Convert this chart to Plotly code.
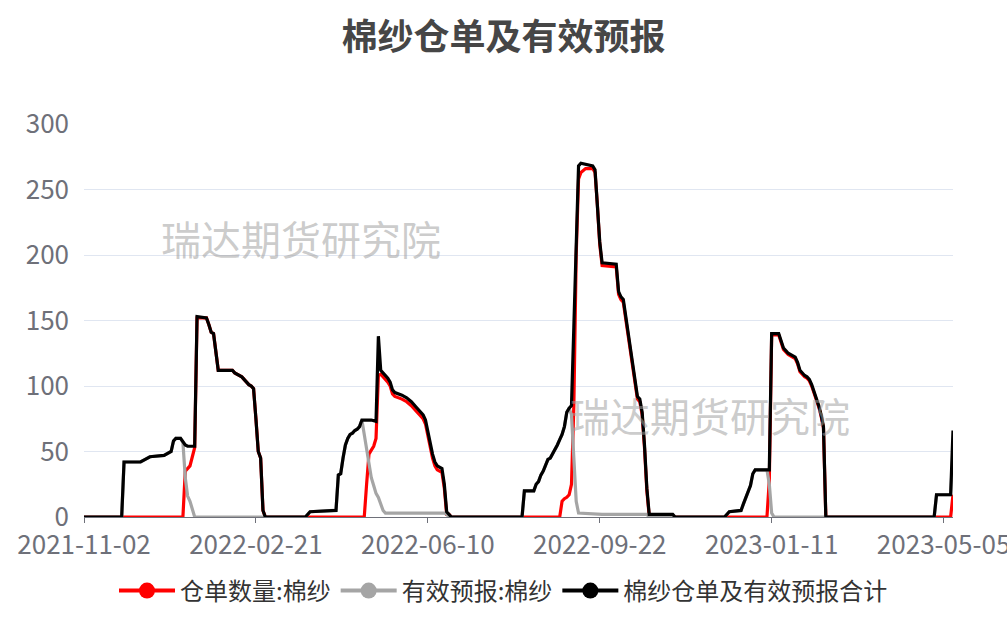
import pandas as pd
import plotly.graph_objects as go

# ---- trading calendar (exchange holidays removed) ----
HOLIDAYS = [
    "2022-01-03", "2022-01-31", "2022-02-01", "2022-02-02", "2022-02-03", "2022-02-04",
    "2022-04-04", "2022-04-05", "2022-05-02", "2022-05-03", "2022-05-04", "2022-06-03",
    "2022-09-12", "2022-10-03", "2022-10-04", "2022-10-05", "2022-10-06", "2022-10-07",
    "2023-01-02", "2023-01-23", "2023-01-24", "2023-01-25", "2023-01-26", "2023-01-27",
    "2023-04-05", "2023-05-01", "2023-05-02", "2023-05-03",
]
FIRST_DAY = "2021-11-02"
LAST_DAY = "2023-05-11"

TICK_LABELS = ["2021-11-02", "2022-02-21", "2022-06-10", "2022-09-22", "2023-01-11", "2023-05-05"]

# ---- 仓单数量:棉纱 ----
warrant_dates = [
    "2021-11-02", "2021-12-30", "2021-12-31", "2022-01-04", "2022-01-05", "2022-01-06",
    "2022-01-07", "2022-01-10", "2022-01-14", "2022-01-17", "2022-01-18", "2022-01-19",
    "2022-01-20", "2022-01-21", "2022-02-07", "2022-02-08", "2022-02-11", "2022-02-14",
    "2022-02-16", "2022-02-17", "2022-02-18", "2022-02-21", "2022-02-22", "2022-02-23",
    "2022-02-24", "2022-02-25",
    "2022-04-28", "2022-04-29", "2022-05-05", "2022-05-06", "2022-05-09", "2022-05-10",
    "2022-05-11", "2022-05-12", "2022-05-13", "2022-05-16", "2022-05-17", "2022-05-18",
    "2022-05-19", "2022-05-20", "2022-05-25", "2022-05-27", "2022-05-31", "2022-06-02",
    "2022-06-07", "2022-06-08", "2022-06-09", "2022-06-10", "2022-06-13", "2022-06-14",
    "2022-06-15", "2022-06-16", "2022-06-20", "2022-06-21", "2022-06-22", "2022-06-23",
    "2022-06-24",
    "2022-08-29", "2022-08-30", "2022-08-31", "2022-09-01", "2022-09-02", "2022-09-05",
    "2022-09-06", "2022-09-07", "2022-09-08", "2022-09-09", "2022-09-14", "2022-09-19",
    "2022-09-20", "2022-09-21", "2022-09-22", "2022-09-23", "2022-10-10", "2022-10-11",
    "2022-10-12", "2022-10-13", "2022-10-14", "2022-10-17", "2022-10-18", "2022-10-19",
    "2022-10-20", "2022-10-21", "2022-10-24", "2022-10-25", "2022-10-26", "2022-10-27",
    "2022-10-28", "2022-11-11", "2022-11-14",
    "2023-01-09", "2023-01-10", "2023-01-11", "2023-01-16", "2023-01-17", "2023-01-18",
    "2023-01-19", "2023-01-20", "2023-02-01", "2023-02-02", "2023-02-03", "2023-02-06",
    "2023-02-07", "2023-02-08", "2023-02-09", "2023-02-10", "2023-02-13", "2023-02-14",
    "2023-02-15", "2023-02-16", "2023-02-17", "2023-02-20",
    "2023-05-10", "2023-05-11",
]
warrant_values = [
    0, 0, 35, 37, 39, 46,
    53, 152, 152, 147, 141, 140,
    125, 112, 112, 110, 107, 105,
    101, 100, 98, 75, 50, 45,
    5, 0,
    0, 25, 48, 51, 54, 60,
    108, 109, 107, 105, 103, 100,
    94, 92, 90, 88, 85, 81,
    77, 75, 71, 62, 55, 45,
    39, 36, 34, 22, 2, 2,
    0,
    0, 12, 14, 15, 17, 25,
    85, 200, 258, 263, 266, 266,
    263, 238, 208, 192, 191, 170,
    166, 164, 151, 138, 125, 112,
    99, 90, 88, 78, 53, 20,
    1, 1, 0,
    0, 28, 139, 139, 133, 128,
    126, 124, 121, 117, 111, 109,
    107, 106, 104, 100, 95, 90,
    84, 77, 68, 0,
    0, 17,
]

# ---- 有效预报:棉纱 ----
forecast_dates = [
    "2021-11-02", "2021-11-24", "2021-11-25", "2021-12-06", "2021-12-08", "2021-12-10",
    "2021-12-20", "2021-12-22", "2021-12-23", "2021-12-24", "2021-12-27", "2021-12-29",
    "2021-12-30", "2021-12-31", "2022-01-04", "2022-01-05", "2022-01-06", "2022-01-07",
    "2022-03-22", "2022-03-24", "2022-04-11", "2022-04-12", "2022-04-13", "2022-04-14",
    "2022-04-15", "2022-04-18", "2022-04-19", "2022-04-20", "2022-04-21", "2022-04-22",
    "2022-04-25", "2022-04-26", "2022-04-27", "2022-04-28", "2022-04-29", "2022-05-05",
    "2022-05-06", "2022-05-09", "2022-05-10", "2022-05-11", "2022-05-12", "2022-05-13",
    "2022-05-16", "2022-06-21", "2022-06-22", "2022-06-23",
    "2022-08-05", "2022-08-08", "2022-08-12", "2022-08-15", "2022-08-16", "2022-08-17",
    "2022-08-18", "2022-08-19", "2022-08-22", "2022-08-23", "2022-08-24", "2022-08-25",
    "2022-08-26", "2022-08-29", "2022-08-30", "2022-08-31", "2022-09-01", "2022-09-02",
    "2022-09-05", "2022-09-06", "2022-09-07", "2022-09-08", "2022-09-23", "2022-10-27",
    "2022-10-28",
    "2022-12-13", "2022-12-15", "2022-12-22", "2022-12-23", "2022-12-26", "2022-12-27",
    "2022-12-28", "2022-12-29", "2022-12-30", "2023-01-09", "2023-01-10", "2023-01-11",
    "2023-01-12",
    "2023-04-26", "2023-04-27", "2023-05-10", "2023-05-11",
]
forecast_values = [
    0, 0, 42, 42, 44, 46,
    47, 49, 50, 58, 60, 60,
    57, 30, 16, 12, 5, 0,
    0, 4, 5, 5, 32, 33,
    45, 55, 60, 63, 64, 66,
    67, 69, 74, 62, 52, 40,
    30, 24, 18, 15, 9, 5,
    3, 3, 2, 0,
    0, 20, 20, 25, 27, 32,
    35, 40, 44, 45, 48, 51,
    55, 59, 63, 69, 80, 83,
    78, 45, 12, 3, 2, 2,
    0,
    0, 4, 5, 10, 15, 19,
    24, 33, 36, 36, 25, 3,
    0,
    0, 17, 17, 49,
]

# ---- 棉纱仓单及有效预报合计 ----
total_dates = [
    "2021-11-02", "2021-11-24", "2021-11-25", "2021-12-06", "2021-12-08", "2021-12-10",
    "2021-12-20", "2021-12-22", "2021-12-23", "2021-12-24", "2021-12-27", "2021-12-29",
    "2021-12-30", "2021-12-31", "2022-01-04", "2022-01-07", "2022-01-10", "2022-01-14",
    "2022-01-17", "2022-01-18", "2022-01-19", "2022-01-20", "2022-01-21", "2022-02-07",
    "2022-02-08", "2022-02-11", "2022-02-14", "2022-02-16", "2022-02-17", "2022-02-18",
    "2022-02-21", "2022-02-22", "2022-02-23", "2022-02-24", "2022-02-25",
    "2022-03-22", "2022-03-24", "2022-04-11", "2022-04-12", "2022-04-13", "2022-04-14",
    "2022-04-15", "2022-04-18", "2022-04-19", "2022-04-20", "2022-04-21", "2022-04-22",
    "2022-04-25", "2022-04-26", "2022-04-27", "2022-05-06", "2022-05-10", "2022-05-11",
    "2022-05-12", "2022-05-13", "2022-05-16", "2022-05-17", "2022-05-18", "2022-05-19",
    "2022-05-20", "2022-05-25", "2022-05-27", "2022-05-31", "2022-06-02", "2022-06-07",
    "2022-06-08", "2022-06-09", "2022-06-10", "2022-06-13", "2022-06-14", "2022-06-15",
    "2022-06-16", "2022-06-20", "2022-06-21", "2022-06-22", "2022-06-23", "2022-06-24",
    "2022-08-05", "2022-08-08", "2022-08-12", "2022-08-15", "2022-08-16", "2022-08-17",
    "2022-08-18", "2022-08-19", "2022-08-22", "2022-08-23", "2022-08-24", "2022-08-25",
    "2022-08-26", "2022-08-29", "2022-08-30", "2022-08-31", "2022-09-01", "2022-09-02",
    "2022-09-05", "2022-09-06", "2022-09-07", "2022-09-08", "2022-09-09", "2022-09-14",
    "2022-09-19", "2022-09-20", "2022-09-21", "2022-09-22", "2022-09-23", "2022-10-10",
    "2022-10-11", "2022-10-12", "2022-10-13", "2022-10-14", "2022-10-17", "2022-10-18",
    "2022-10-19", "2022-10-20", "2022-10-21", "2022-10-24", "2022-10-25", "2022-10-26",
    "2022-10-27", "2022-10-28", "2022-11-11", "2022-11-14",
    "2022-12-13", "2022-12-15", "2022-12-22", "2022-12-23", "2022-12-26", "2022-12-27",
    "2022-12-28", "2022-12-29", "2022-12-30", "2023-01-10", "2023-01-11", "2023-01-16",
    "2023-01-17", "2023-01-18", "2023-01-19", "2023-01-20", "2023-02-01", "2023-02-02",
    "2023-02-03", "2023-02-06", "2023-02-07", "2023-02-08", "2023-02-09", "2023-02-10",
    "2023-02-13", "2023-02-14", "2023-02-15", "2023-02-16", "2023-02-17", "2023-02-20",
    "2023-04-26", "2023-04-27", "2023-05-10", "2023-05-11",
]
total_values = [
    0, 0, 42, 42, 44, 46,
    47, 49, 50, 58, 60, 60,
    57, 55, 54, 54, 153, 152,
    147, 141, 140, 125, 112, 112,
    110, 107, 105, 101, 100, 98,
    75, 50, 45, 5, 0,
    0, 4, 5, 5, 32, 33,
    45, 55, 60, 63, 64, 66,
    67, 69, 74, 74, 73, 138,
    112, 110, 108, 106, 103, 97,
    95, 93, 91, 88, 84, 80,
    78, 74, 65, 58, 48, 42,
    39, 37, 25, 4, 2, 0,
    0, 20, 20, 25, 27, 32,
    35, 40, 44, 45, 48, 51,
    55, 59, 63, 69, 80, 83,
    85, 145, 210, 268, 270, 269,
    268, 265, 240, 210, 194, 193,
    172, 168, 166, 153, 140, 127,
    114, 101, 92, 90, 80, 55,
    22, 2, 2, 0,
    0, 4, 5, 10, 15, 19,
    24, 33, 36, 36, 140, 140,
    134, 129, 127, 125, 122, 118,
    112, 110, 108, 107, 105, 101,
    96, 91, 85, 78, 69, 0,
    0, 17, 17, 66,
]

# category positions: one slot per trading day
calendar = pd.bdate_range(FIRST_DAY, LAST_DAY)
calendar = calendar[~calendar.isin(pd.to_datetime(HOLIDAYS))]


def to_slot(dates):
    return list(calendar.searchsorted(pd.to_datetime(dates)))


SERIES = [
    ("仓单数量:棉纱", warrant_dates, warrant_values, "#FF0000"),
    ("有效预报:棉纱", forecast_dates, forecast_values, "#A5A5A5"),
    ("棉纱仓单及有效预报合计", total_dates, total_values, "#000000"),
]

FONT = "Microsoft YaHei, Noto Sans CJK SC, sans-serif"

fig = go.Figure()
for name, dates, values, color in SERIES:
    fig.add_trace(go.Scatter(
        x=to_slot(dates), y=values, mode="lines", name=name,
        line=dict(color=color, width=3.2), showlegend=False, hoverinfo="skip",
    ))
# legend entries (line with circle icon)
for name, _, _, color in SERIES:
    fig.add_trace(go.Scatter(
        x=[None], y=[None], mode="lines+markers", name=name,
        line=dict(color=color, width=4), marker=dict(color=color, size=17),
    ))

# watermarks
for wx, wy in [(0.25, 0.71), (0.72, 0.26)]:
    fig.add_annotation(
        text="瑞达期货研究院", xref="paper", yref="paper", x=wx, y=wy,
        xanchor="center", yanchor="middle", showarrow=False,
        font=dict(family=FONT, size=40, color="rgba(160,160,160,0.55)"),
    )

fig.update_layout(
    width=1007, height=632,
    margin=dict(l=84, r=54, t=124, b=115),
    paper_bgcolor="white", plot_bgcolor="white",
    title=dict(
        text="<b>棉纱仓单及有效预报</b>", x=0.5, xref="container", xanchor="center",
        y=1 - 37 / 632, yref="container", yanchor="middle",
        font=dict(family=FONT, size=36, color="#464646"),
    ),
    legend=dict(
        orientation="h", xref="container", yref="container",
        x=0.5, xanchor="center", y=1 - 591 / 632, yanchor="middle",
        font=dict(family=FONT, size=24, color="#333333"),
        itemwidth=56,
    ),
    xaxis=dict(
        range=[0, len(calendar) - 1], automargin=False,
        tickvals=to_slot(TICK_LABELS), ticktext=TICK_LABELS,
        showgrid=False, zeroline=False,
        showline=True, linecolor="#6E7079", linewidth=1,
        ticks="outside", ticklen=5, tickcolor="#6E7079",
        tickfont=dict(family=FONT, size=26, color="#6E7079"),
        ticklabelstandoff=0, ticklabeloverflow="allow",
    ),
    yaxis=dict(
        range=[0, 300], dtick=50, tick0=0, automargin=False,
        showgrid=True, gridcolor="#E0E6F1", gridwidth=1,
        zeroline=False, showline=False, ticks="",
        tickfont=dict(family=FONT, size=26, color="#6E7079"),
        ticklabelstandoff=14,
    ),
)

fig.write_html("out.html")
